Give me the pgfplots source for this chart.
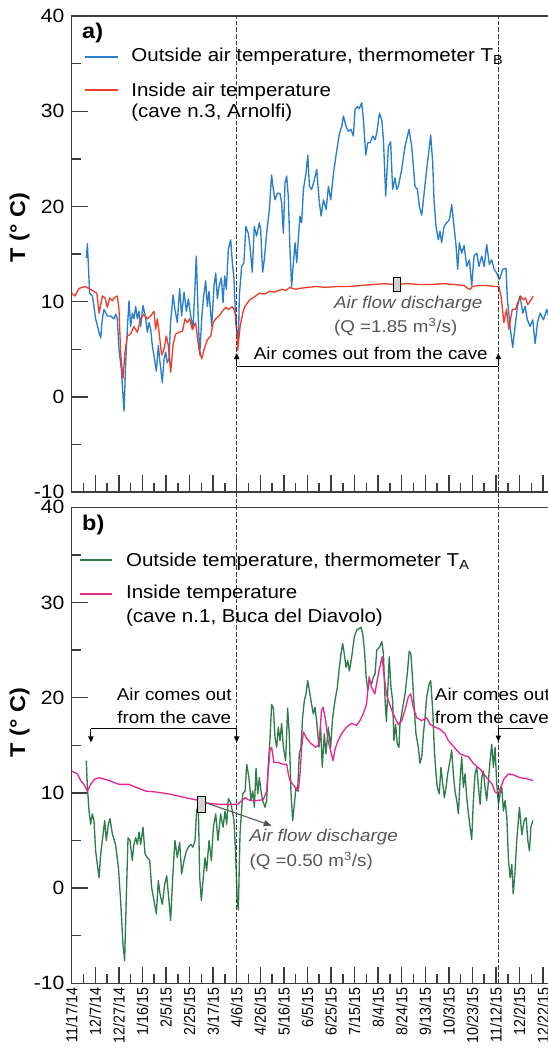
\documentclass[border=0pt]{standalone}
\usepackage{fontspec}
\setmainfont{Liberation Sans}[FakeStretch=1.1]
\newfontfamily\datefont{Liberation Sans}[FakeStretch=0.9]
\usepackage{pgfplots}
\pgfplotsset{compat=1.18}
\usetikzlibrary{arrows.meta}

\definecolor{outA}{RGB}{40,125,205}
\definecolor{inA}{RGB}{240,60,40}
\definecolor{outB}{RGB}{45,125,75}
\definecolor{inB}{RGB}{230,40,140}
\definecolor{axisgray}{RGB}{60,60,60}
\definecolor{dashgray}{RGB}{60,60,60}
\definecolor{notegray}{RGB}{85,85,85}
\definecolor{boxgray}{RGB}{210,210,210}

\pgfplotsset{
  panel/.style={
    scale only axis, width=358.7pt, height=357pt,
    xmin=0, xmax=405.8, ymin=-10, ymax=40,
    xtick={0,20,...,400}, minor xtick={10,30,...,390},
    ytick={-10,0,...,40}, minor ytick={-5,5,...,35},
    tick pos=left, tick align=inside,
    major tick length=12.5pt, minor tick length=6.75pt,
    major tick style={axisgray,line width=1.1pt},
    minor tick style={axisgray,line width=1.1pt},
    axis line style={axisgray,line width=1.1pt},
    /pgf/number format/assume math mode=true,
    yticklabel style={font=\fontsize{14.4}{16}\selectfont, xshift=-2pt},
    clip=false,
  },
  dataline/.style={line width=1pt, line join=round},
}
\tikzset{
  dashln/.style={dashgray, line width=1.1pt, dash pattern=on 3.5pt off 1.5pt},
  txt/.style={font=\fontsize{12.8}{15}\selectfont, inner sep=0pt},
  leg/.style={font=\fontsize{14}{16}\selectfont, inner sep=0pt, anchor=west},
  legline/.style={line width=1.3pt, line cap=butt},
  tip/.style={-{Triangle[length=4.5pt,width=4pt]}, line width=0.8pt},
  ylab/.style={rotate=90, font=\fontsize{16}{18}\selectfont\bfseries},
}

\begin{document}
\begin{tikzpicture}
% ---------------- panel a ----------------
\begin{axis}[panel, at={(53.78pt,-12.08pt)}, anchor=north west, xticklabels={}]
\addplot[dataline, outA] coordinates {
(12.4,14.6)(13.3,16.1)(15.2,10.9)(17.5,10.6)(18.9,9.5)(20.3,8.2)(23.2,6.8)(24.6,6.2)(26,8.2)(27.4,9.2)
(30.2,8.5)(33,8.5)(35.9,8.2)(37.3,8.7)(38.7,8.2)(40.1,5.0)(42.1,2.9)(44.4,-1.5)(45.8,3.6)(47.2,7.1)
(48.6,10.1)(50,7.4)(51.4,8.8)(52.8,8.2)(54.3,9.5)(55.7,8.2)(57.1,9.0)(58.5,7.4)(60.5,9.6)(62.8,8.2)
(64.2,6.8)(65.6,7.8)(67,7.1)(68.4,5.4)(70.7,3.6)(71.8,2.7)(73.5,5.4)(74.6,4.0)(76.9,1.5)(78.3,4.0)
(79.7,4.7)(81.1,3.6)(82.5,4.0)(83.9,7.8)(86,10.7)(87.6,9.2)(89.6,7.8)(91.6,11.4)(93.3,8.5)(95.3,11.0)
(97.3,9.0)(99,10.3)(101,8.5)(102.9,7.1)(104.6,11.6)(105.7,14.8)(107.4,8.2)(108.6,4.4)(110.3,8.2)(111.7,10.3)
(113.7,12.2)(115.1,9.5)(116.5,11.1)(118.8,7.4)(120.7,11.6)(122.2,13.0)(123.6,10.3)(125,11.6)(127,12.5)(128.4,9.9)
(129.8,12.7)(131.2,11.3)(132.9,15.5)(134.9,16.5)(136.3,14.1)(137.7,12.4)(139.1,7.8)(140.5,6.5)(141.5,6.0)(142.2,10.6)
(144.2,13.7)(146.1,14.1)(147.8,17.9)(149.8,17.2)(151.2,15.9)(153.2,13.1)(154.9,17.9)(156.9,16.9)(159.2,18.3)(160.3,17.6)
(162,13.1)(163.4,14.4)(165.4,17.2)(167.7,19.7)(169.6,23.3)(171.1,21.8)(172.5,20.7)(174.5,21.4)(176.7,21.4)(178.1,20.4)
(179.6,17.2)(181,22.5)(182.4,23.2)(183.8,21.0)(185.2,15.5)(186.6,11.6)(188.1,14.1)(189.5,16.2)(190.9,14.1)(192.3,16.6)
(193.7,19.0)(195.1,18.3)(196.6,21.8)(198.8,23.5)(200.3,25.4)(201.7,22.1)(203.6,21.8)(205.9,22.8)(207.9,23.9)(209.9,20.7)
(211.6,19.0)(213.6,20.7)(215.9,19.7)(217.8,22.1)(219.8,20.7)(222.1,23.5)(224.9,25.9)(227.2,27.7)(229.1,28.4)(230.5,29.5)
(232.8,28.4)(234.8,27.9)(237,28.1)(239,27.4)(240.4,30.2)(242.4,30.5)(244.1,30.3)(246.1,30.9)(247.5,29.1)(249.5,25.4)
(251.2,26.7)(253.2,26.7)(255.4,27.4)(257.4,27.0)(258.8,27.7)(261.1,29.8)(263.1,29.1)(264.5,27.0)(266.4,21.1)(268.7,26.3)
(270.6,26.8)(272.3,21.8)(274.3,23.0)(275.7,21.8)(277.1,22.1)(280,23.9)(282.8,26.3)(286.2,28.1)(288.5,26.3)(291.3,22.1)
(293.3,21.8)(295,20.0)(297,19.1)(299,21.4)(301.2,23.9)(303.2,26.0)(304.6,27.5)(306.3,24.6)(307.4,20.7)(309.1,17.9)
(311.1,16.5)(312.5,17.4)(313.9,16.2)(315.9,17.9)(318.2,18.3)(320.4,18.6)(322.4,20.2)(324.4,17.9)(326.1,15.9)(327.5,13.4)
(328.9,16.2)(330.9,15.1)(332.9,15.9)(335.2,13.7)(337.4,14.4)(339.4,11.7)(341.4,14.8)(343.7,15.1)(345.6,13.7)(347.9,14.8)
(349.9,13.7)(352.1,16.0)(354.4,13.9)(356.4,14.4)(358.4,13.4)(360.6,13.0)(362.9,12.3)(365.7,13.4)(368.5,13.5)(369.7,10.2)
(371.9,7.4)(374.2,5.2)(376.2,7.4)(378.2,9.5)(380.4,10.6)(382.7,8.8)(384.7,9.5)(386.6,8.1)(388.9,7.4)(391.2,8.1)
(393.2,5.6)(395.2,7.8)(397.4,8.8)(400.3,8.1)(403.1,9.2)(405.8,8.0)};
\addplot[dataline, inA] coordinates {
(0,10.9)(2.8,10.6)(6.2,11.4)(11.4,11.6)(14.2,11.4)(18.4,11.1)(21.3,10.9)(23.3,8.8)(26,10.6)(28.3,10.4)
(30.2,9.4)(32.2,10.4)(34.5,10.1)(35.9,10.4)(38.7,10.6)(40.1,9.2)(41.5,4.7)(43.5,1.9)(45.2,4.7)(47.2,6.4)
(50,6.6)(52.8,7.4)(55.7,6.8)(58.5,8.2)(61.3,8.7)(64.2,8.2)(67,8.5)(69.8,9.0)(71.2,7.1)(72.7,8.2)
(74.1,6.8)(76.3,4.4)(78.3,5.0)(80.3,6.4)(82,5.4)(84,2.6)(86,5.5)(88.2,6.6)(91.1,6.8)(94,6.9)
(96.2,8.2)(98.1,7.8)(100.1,8.2)(102.3,7.1)(105.1,7.8)(108,5.0)(110.3,4.0)(112.3,5.0)(115.1,6.0)(118,6.4)
(120,7.8)(122.2,8.2)(125,8.5)(127.8,9.0)(130.6,9.4)(133.4,9.2)(136.3,9.5)(138.3,9.0)(139.5,8.5)(140.8,4.9)
(143,7.5)(145.3,8.9)(147,9.5)(151,10.2)(155,10.5)(159.4,10.9)(164,10.8)(167.9,11.1)(172,11.0)(178,11.3)
(182,11.2)(185,11.5)(190,11.3)(193.6,11.4)(200,11.5)(207.6,11.6)(215,11.5)(225,11.6)(235.9,11.6)(245,11.7)
(255.7,11.8)(265,11.9)(275,11.8)(285,11.9)(295,11.8)(305,11.8)(315,11.9)(325,11.8)(333,11.7)(336,11.4)
(338,11.3)(340,11.6)(345,11.7)(352,11.7)(358,11.6)(362.4,11.6)(364.4,10.5)(366.7,7.8)(368.9,9.2)(370.9,7.1)
(373.8,9.2)(376.6,9.2)(378.5,9.9)(380.8,10.6)(383.1,10.2)(385,10.4)(387,9.7)(389.3,10.1)(391.5,10.6)};
% legend sample lines
\draw[legline, draw=outA] (11.2,35.7) -- (39.1,35.7);
\draw[legline, draw=inA, line width=1.6pt] (11.2,32.2) -- (39.1,32.2);
% dashed period markers
\draw[dashln] (140,-10) -- (140,40);
\draw[dashln] (362,-10) -- (362,40);
% period annotation
\draw[line width=0.8pt] (140,3.2) -- (362,3.2);
\draw[tip] (140,3.2) -- (140,4.6);
\draw[tip] (362,3.2) -- (362,4.6);
\node[txt, anchor=base] at (253.8,3.9) {Air comes out from the cave};
% discharge box
\draw[black, line width=0.7pt, fill=boxgray] (272.8,11.05) rectangle (278.7,12.55);
\node[txt, anchor=west, notegray, font=\fontsize{12.8}{15}\selectfont\itshape] at (222.4,9.8) {Air flow discharge};
\node[txt, anchor=west, notegray] at (222.4,7.3) {(Q =1.85 m\textsuperscript{3}/s)};
% legend text
\node[leg, font=\fontsize{16}{18}\selectfont\bfseries] at (8.7,38.2) {a)};
\node[leg] at (50.4,35.7) {Outside air temperature, thermometer T\textsubscript{B}};
\node[leg] at (50.4,32.1) {Inside air temperature};
\node[leg] at (50.4,29.9) {(cave n.3, Arnolfi)};
\node[ylab] at ([xshift=-39pt]axis cs:0,17.8) {T (° C)};
\end{axis}
% ---------------- panel b ----------------
\begin{axis}[panel, at={(53.78pt,-380.5pt)}, anchor=north west,
  xticklabels={11/17/14,12/7/14,12/27/14,1/16/15,2/5/15,2/25/15,3/17/15,4/6/15,4/26/15,5/16/15,6/5/15,
    6/25/15,7/15/15,8/4/15,8/24/15,9/13/15,10/3/15,10/23/15,11/12/15,12/2/15,12/22/15},
  xticklabel style={rotate=90, anchor=east, font=\datefont\fontsize{11.9}{13}\selectfont}]
\addplot[dataline, outB] coordinates {
(12.4,13.4)(13.3,10.6)(14.7,8.1)(16.1,6.7)(17.5,7.8)(18.9,7.1)(20.3,3.9)(23.2,1.1)(24.6,3.6)(26,5.0)
(28,7.1)(29.4,5.0)(31.1,6.7)(32.5,7.3)(34.5,5.7)(37.3,4.5)(39.6,2.2)(41.5,-1.3)(43.5,-5.9)(44.9,-7.6)
(46.4,-0.6)(47.8,5.3)(49.5,5.0)(51.4,2.9)(52.8,4.6)(54.3,5.3)(55.7,4.6)(57.1,5.9)(58.5,4.6)(60.5,6.4)
(62.2,3.6)(64.2,3.2)(66.2,2.9)(67.8,0.1)(69.8,-1.3)(71.8,-2.7)(73.5,0.8)(74.9,-0.6)(76.9,-1.7)(78.9,0.4)
(80.6,1.3)(82.5,-1.3)(83.9,-3.4)(86,1.8)(87.6,5.0)(89.6,3.2)(91.6,4.8)(93.3,1.5)(95.3,2.9)(97.3,3.9)
(99,4.3)(101,4.6)(102.9,4.3)(104.6,5.0)(106,8.1)(107.4,8.8)(108.6,1.1)(110,-1.3)(111.4,0.8)(113.1,3.2)
(114.5,1.8)(116.5,5.0)(118.5,2.9)(120.2,6.4)(122.2,7.8)(124.1,5.0)(126.4,7.8)(128.4,6.4)(130.1,8.1)(131.5,6.7)
(132.9,9.4)(134.9,9.0)(136.3,8.1)(137.7,7.1)(139.1,3.6)(140.5,-1.5)(141.4,-2.3)(142.8,5.7)(145.1,9.9)(147.1,10.2)
(148.5,13.0)(150.4,11.6)(152.1,9.2)(153.6,10.2)(155,8.5)(156.4,12.6)(157.8,9.9)(159.2,11.6)(160.6,10.2)(162,9.2)
(164,8.5)(165.4,9.2)(166.8,13.0)(168.2,15.5)(169.6,19.3)(171.1,18.9)(172.5,15.8)(173.9,14.8)(175.3,16.9)(176.7,15.5)
(178.1,17.3)(179.6,14.8)(181.5,13.4)(183.2,18.9)(184.6,16.2)(186.1,9.9)(187.5,7.1)(188.9,8.8)(190.3,10.6)(191.7,10.2)
(193.1,14.1)(194.5,14.8)(195.9,17.9)(197.4,19.7)(198.8,20.4)(200.2,21.8)(201.6,20.8)(203,19.7)(205,18.3)(206.4,19.0)
(207.8,17.6)(209.8,14.8)(211.2,16.9)(212.6,12.7)(214.3,16.2)(215.7,14.1)(217.7,16.9)(219.7,14.8)(221.4,17.9)(223.4,19.7)
(225.4,21.1)(227.1,23.2)(228.5,24.6)(229.9,25.7)(231.3,24.6)(232.7,23.2)(234.2,23.9)(235.6,22.8)(237.6,24.3)(239.8,26.4)
(241.8,27.1)(244.1,27.3)(245.5,27.4)(246.9,26.7)(248.4,25.0)(249.8,22.2)(251.2,20.8)(252.6,21.8)(254.6,21.5)(256,22.2)
(257.4,22.5)(258.8,25.0)(261.1,25.3)(263.1,25.9)(264.5,24.6)(265.9,19.7)(267,17.5)(268.5,21.5)(269.4,24.3)(270.9,21.1)
(272.3,19.7)(273.4,15.5)(274.8,17.2)(276.3,15.1)(277.7,14.8)(278.5,17.2)(280.5,18.7)(282.8,20.4)(284.7,22.5)(286.4,24.9)
(287.8,24.6)(289.3,21.8)(290.7,18.7)(292.1,16.2)(294.1,14.8)(295.5,13.1)(297,13.8)(298.4,16.2)(299.8,17.9)(301.2,20.1)
(303.4,21.5)(304.6,21.8)(306.3,18.7)(307.7,14.5)(309.1,12.0)(310.2,10.6)(311.9,9.9)(313.3,12.7)(314.8,11.0)(316.2,9.5)
(317.6,10.6)(319,12.0)(321,13.4)(322.4,14.5)(323.8,12.0)(325.2,10.2)(326.7,9.2)(328.1,7.8)(329.5,11.3)(330.9,13.8)
(332.3,10.6)(333.7,12.0)(335.2,9.5)(336.6,7.8)(338,6.4)(339.4,5.1)(340.8,9.2)(342.2,12.0)(343.7,12.7)(345.1,10.6)
(346.5,8.8)(347.9,11.6)(349.3,12.3)(350.7,10.6)(352.1,9.2)(353.6,11.3)(355,13.4)(356.4,15.1)(357.8,12.7)(359.2,14.8)
(360.6,11.0)(362.1,8.8)(363.5,9.9)(364.9,10.6)(366.3,8.1)(367.7,9.2)(369.2,7.4)(370.6,2.9)(372,1.1)(373.4,2.5)
(374.6,-0.6)(376,1.5)(377.6,5.0)(379.9,8.5)(381.9,5.6)(383.9,7.1)(385.6,7.4)(387,5.0)(388.4,3.9)(389.6,6.4)
(391.3,7.1)};
\addplot[dataline, inB] coordinates {
(0,12.3)(4.8,12.0)(7.6,11.3)(10.4,10.9)(13.3,10.2)(16.1,10.9)(19,11.4)(23.2,11.6)(31.7,11.3)(40.1,10.9)
(48.6,10.9)(54.3,10.6)(62.8,10.2)(71.2,10.1)(82.5,9.9)(96.7,9.5)(108,9.2)(116.5,8.9)(125,8.8)(133.4,8.8)
(140.5,8.8)(147.1,9.5)(151.3,9.2)(157,9.2)(162.6,9.3)(165.4,10.2)(168.2,14.5)(169.6,14.8)(171.6,13.2)(175.3,13.2)
(179.6,13.0)(182.4,13.0)(183.8,12.0)(185.2,11.3)(189.5,10.6)(192.3,10.2)(193.7,12.0)(195.1,14.8)(196.6,16.4)(199,15.8)
(203,15.2)(207,14.8)(209.9,15.1)(211.9,18.6)(213.3,19.0)(215.5,17.6)(217.5,15.5)(220.4,14.1)(221.8,13.4)(223.2,14.5)
(226,15.5)(228.9,16.2)(233.1,16.9)(237.4,17.3)(241.7,17.1)(244.5,17.6)(247.3,18.3)(250.1,19.3)(252.4,22.2)(254.4,21.1)
(257.2,20.4)(259.2,21.8)(261.4,23.2)(263.4,24.3)(264.8,22.5)(267.1,20.4)(268.7,19.7)(271.5,18.7)(274.3,17.9)(277.1,17.2)
(280,17.6)(282.8,18.7)(285.6,20.1)(287.6,20.4)(289.9,19.0)(292.7,17.9)(297,17.6)(301.2,17.9)(304.1,17.2)(308.3,16.9)
(312.5,16.7)(316.8,16.2)(319.6,15.5)(322.4,15.1)(326.7,14.5)(329.5,14.1)(333.7,13.9)(336.6,13.8)(340.8,13.1)(346.5,12.5)
(352.1,11.6)(356.4,11.0)(359.2,10.1)(362.1,9.9)(364,10.6)(366.9,11.5)(370.6,12.0)(374.8,11.9)(380.4,11.6)(386.1,11.5)
(391.3,11.3)};
% legend sample lines
\draw[legline, draw=outB] (7.4,34.5) -- (34.6,34.5);
\draw[legline, draw=inB] (7.4,30.9) -- (34.6,30.9);
\draw[dashln] (140,-10) -- (140,41.6);
\draw[dashln] (362,-10) -- (362,41.6);
% left period annotation
\draw[line width=0.8pt] (16.3,16.74) -- (140,16.74);
\draw[tip] (16.3,16.74) -- (16.3,15.3);
\draw[tip] (140,16.74) -- (140,15.3);
\node[txt, anchor=base] at (87,19.75) {Air comes out};
\node[txt, anchor=base] at (87,17.25) {from the cave};
% right period annotation
\draw[line width=0.8pt] (362,16.8) -- (391,16.8);
\draw[tip] (362,16.8) -- (362,15.4);
\node[txt, anchor=base west] at (308,19.75) {Air comes out};
\node[txt, anchor=base west] at (308,17.25) {from the cave};
% discharge box and pointer
\draw[black, line width=0.7pt, fill=boxgray] (106.6,8.0) rectangle (113.1,9.6);
\draw[notegray, line width=0.8pt, -{Triangle[length=6pt,width=4.5pt]}] (113.1,9.0) -- (169.7,6.56);
\node[txt, anchor=west, notegray, font=\fontsize{12.8}{15}\selectfont\itshape] at (150.7,5.4) {Air flow discharge};
\node[txt, anchor=west, notegray] at (150.7,2.8) {(Q =0.50 m\textsuperscript{3}/s)};
% legend text
\node[leg, font=\fontsize{16}{18}\selectfont\bfseries] at (8.7,38.1) {b)};
\node[leg] at (45.9,34.3) {Outside temperature, thermometer T\textsubscript{A}};
\node[leg] at (45.9,30.9) {Inside temperature};
\node[leg] at (45.9,28.4) {(cave n.1, Buca del Diavolo)};
\node[ylab] at ([xshift=-39pt]axis cs:0,17.4) {T (° C)};
\end{axis}
\pgfresetboundingbox
\path[use as bounding box] (0,0) rectangle (411pt,-786pt);
\end{tikzpicture}
\end{document}
